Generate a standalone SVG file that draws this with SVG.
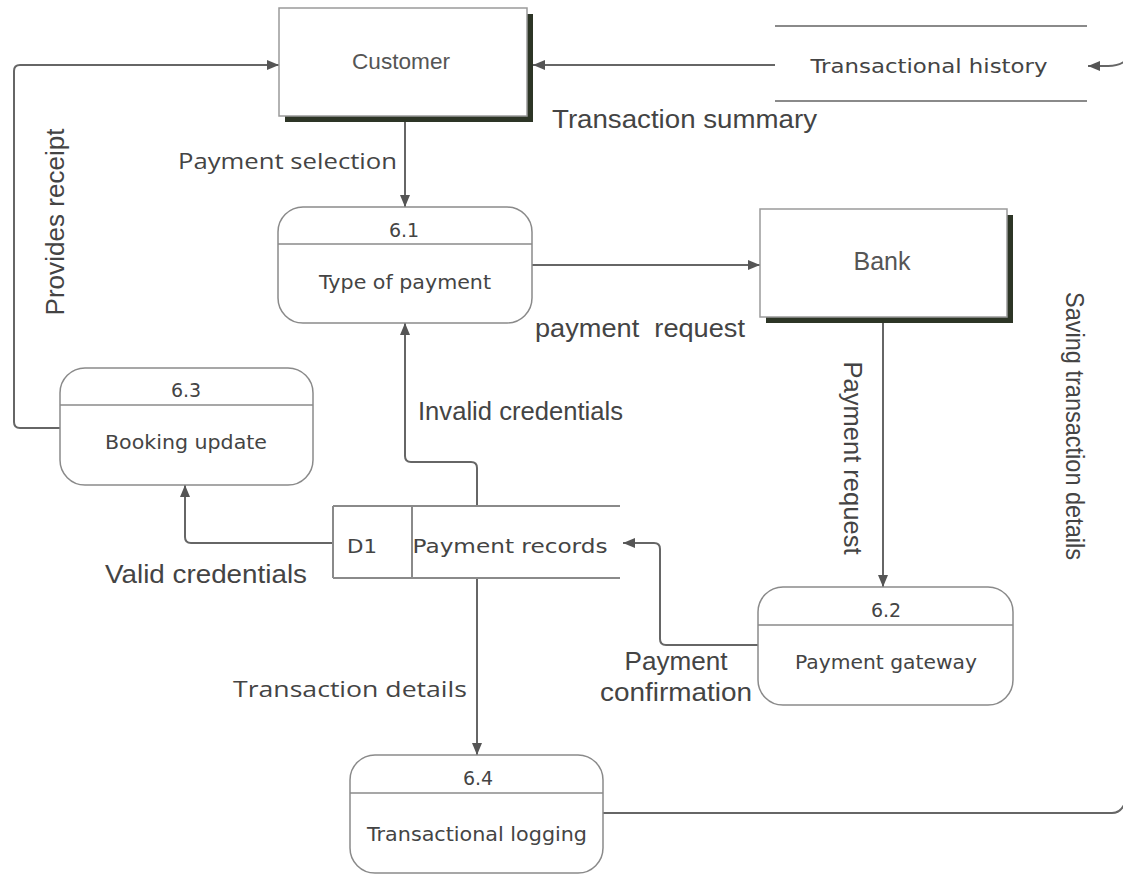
<svg xmlns="http://www.w3.org/2000/svg" width="1123" height="875" viewBox="0 0 1123 875">
<style>
.bg{fill:#ffffff}
.ent{fill:#ffffff;stroke:#9a9a9a;stroke-width:1.5}
.shadow{fill:#2d3526}
.proc{fill:#ffffff;stroke:#8a8a8a;stroke-width:1.5}
.div{stroke:#8a8a8a;stroke-width:1.5;fill:none}
.store{stroke:#8a8a8a;stroke-width:2;fill:none}
.conn{fill:none;stroke:#666666;stroke-width:2}
.nt{font-family:"DejaVu Sans",Verdana,sans-serif;font-size:19px;fill:#444444;text-anchor:middle}
.et{font-family:"Liberation Sans",Arial,sans-serif;fill:#555555;text-anchor:middle}
.lbl{font-family:"Liberation Sans",Arial,sans-serif;font-size:25px;fill:#444444;white-space:pre}
.lbl2{font-family:"Open Sans","Noto Sans",sans-serif;font-size:22px;fill:#444444}
</style>
<defs>
<marker id="arr" viewBox="0 0 12 10" refX="12" refY="5" markerWidth="12" markerHeight="10" markerUnits="userSpaceOnUse" orient="auto">
<path d="M0,0 L12,5 L0,10 z" fill="#555555"/>
</marker>
</defs>
<rect class="bg" x="0" y="0" width="1123" height="875"/>

<g id="connectors">
<path class="conn" d="M405,122 V207" marker-end="url(#arr)"/>
<path class="conn" d="M532,265 H760" marker-end="url(#arr)"/>
<path class="conn" d="M883,323 V587" marker-end="url(#arr)"/>
<path class="conn" d="M758,645 H666 Q660,645 660,639 V549 Q660,543 654,543 H623" marker-end="url(#arr)"/>
<path class="conn" d="M477,578 V755" marker-end="url(#arr)"/>
<path class="conn" d="M477,506 V468 Q477,462 471,462 H411 Q405,462 405,456 V323" marker-end="url(#arr)"/>
<path class="conn" d="M333,543 H191 Q185,543 185,537 V485" marker-end="url(#arr)"/>
<path class="conn" d="M60,428 H20 Q14,428 14,422 V71 Q14,65 20,65 H279" marker-end="url(#arr)"/>
<path class="conn" d="M603,813 H1112 Q1122,813 1126,800 V60 Q1120,66 1108,66 H1088" marker-end="url(#arr)"/>
<path class="conn" d="M775,65 H533" marker-end="url(#arr)"/>
</g>

<g id="customer">
<rect class="shadow" x="285" y="14" width="248" height="108"/>
<rect class="ent" x="279" y="8" width="248" height="108"/>
<text class="et" x="401" y="69" font-size="22" textLength="98" lengthAdjust="spacingAndGlyphs">Customer</text>
</g>

<g id="bank">
<rect class="shadow" x="766" y="215" width="247" height="108"/>
<rect class="ent" x="760" y="209" width="247" height="108"/>
<text class="et" x="882" y="270" font-size="25" textLength="57" lengthAdjust="spacingAndGlyphs">Bank</text>
</g>

<g id="transactional-history">
<line class="store" x1="775" y1="26" x2="1087" y2="26"/>
<line class="store" x1="775" y1="101" x2="1087" y2="101"/>
<text class="nt" x="929" y="73" font-size="21" textLength="237" lengthAdjust="spacingAndGlyphs">Transactional history</text>
</g>

<g id="p61">
<rect class="proc" x="278" y="207" width="254" height="116" rx="25" ry="25"/>
<line class="div" x1="278" y1="244" x2="532" y2="244"/>
<text class="nt" x="404" y="237">6.1</text>
<text class="nt" x="405" y="289" textLength="172" lengthAdjust="spacingAndGlyphs">Type of payment</text>
</g>

<g id="p63">
<rect class="proc" x="60" y="368" width="253" height="117" rx="25" ry="25"/>
<line class="div" x1="60" y1="405" x2="313" y2="405"/>
<text class="nt" x="186" y="397">6.3</text>
<text class="nt" x="186" y="449" textLength="162" lengthAdjust="spacingAndGlyphs">Booking update</text>
</g>

<g id="d1">
<line class="store" x1="333" y1="506" x2="620" y2="506"/>
<line class="store" x1="333" y1="578" x2="620" y2="578"/>
<line class="store" x1="333" y1="506" x2="333" y2="578"/>
<line class="store" x1="412" y1="506" x2="412" y2="578"/>
<text class="nt" x="362" y="553" textLength="30" lengthAdjust="spacingAndGlyphs">D1</text>
<text class="nt" x="510" y="553" textLength="195" lengthAdjust="spacingAndGlyphs">Payment records</text>
</g>

<g id="p62">
<rect class="proc" x="758" y="587" width="255" height="118" rx="25" ry="25"/>
<line class="div" x1="758" y1="625" x2="1013" y2="625"/>
<text class="nt" x="886" y="617">6.2</text>
<text class="nt" x="886" y="669" textLength="182" lengthAdjust="spacingAndGlyphs">Payment gateway</text>
</g>

<g id="p64">
<rect class="proc" x="350" y="755" width="253" height="118" rx="25" ry="25"/>
<line class="div" x1="350" y1="793" x2="603" y2="793"/>
<text class="nt" x="478" y="785">6.4</text>
<text class="nt" x="477" y="841" textLength="220" lengthAdjust="spacingAndGlyphs">Transactional logging</text>
</g>

<g id="labels">
<text class="lbl" x="552" y="128" textLength="265" lengthAdjust="spacingAndGlyphs">Transaction summary</text>
<text class="lbl2" x="178" y="169" textLength="219" lengthAdjust="spacingAndGlyphs">Payment selection</text>
<text class="lbl" x="535" y="337" textLength="210" lengthAdjust="spacingAndGlyphs">payment  request</text>
<text class="lbl" x="418" y="420" textLength="205" lengthAdjust="spacingAndGlyphs">Invalid credentials</text>
<text class="lbl" x="105" y="583" textLength="202" lengthAdjust="spacingAndGlyphs">Valid credentials</text>
<text class="lbl" x="676" y="670" text-anchor="middle" textLength="103" lengthAdjust="spacingAndGlyphs">Payment</text>
<text class="lbl" x="676" y="701" text-anchor="middle" textLength="152" lengthAdjust="spacingAndGlyphs">confirmation</text>
<text class="lbl2" x="233" y="697" textLength="234" lengthAdjust="spacingAndGlyphs">Transaction details</text>
<text class="lbl" transform="translate(64,222) rotate(-90)" text-anchor="middle" textLength="187" lengthAdjust="spacingAndGlyphs">Provides receipt</text>
<text class="lbl" transform="translate(844,458) rotate(90)" text-anchor="middle" textLength="193" lengthAdjust="spacingAndGlyphs">Payment request</text>
<text class="lbl" transform="translate(1066,426) rotate(90)" text-anchor="middle" textLength="268" lengthAdjust="spacingAndGlyphs">Saving transaction details</text>
</g>
</svg>
